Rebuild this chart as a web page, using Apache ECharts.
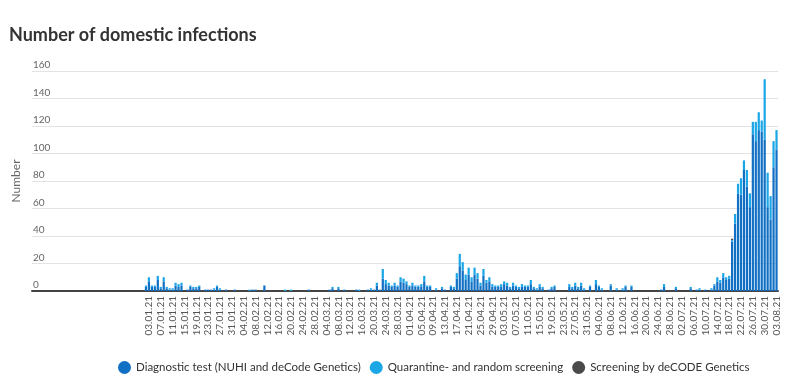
<!DOCTYPE html>
<html>
<head>
<meta charset="utf-8">
<script src="https://cdn.jsdelivr.net/npm/echarts@6/dist/echarts.min.js"></script>
<style>html,body{margin:0;padding:0;background:#fff}#c{width:808px;height:384px}</style>
</head>
<body>
<div id="c"></div>
<script>
// Axis starts 25.11.2020 (empty until 01.01.2021); data 01.01.2021 - 03.08.2021
const axisStart = '2020-11-25';
const leadDays = 37;
const firstLabel = '03.01.21';
const labelEvery = 4;
const yTicks = [0, 20, 40, 60, 80, 100, 120, 140, 160];

const seriesNames = ['Diagnostic test (NUHI and deCode Genetics)', 'Quarantine- and random screening', 'Screening by deCODE Genetics'];

const diagnostic = [
  0,3,7,3,3,8,2,7,2,1,
  1,4,3,4,0,1,3,2,2,3,
  0,1,1,1,1,3,1,0,1,0,
  0,1,0,0,0,0,0,1,1,0,
  0,4,0,0,0,0,0,0,0,0,
  0,0,0,0,0,0,1,0,0,0,
  0,0,0,1,2,0,2,0,1,0,
  0,0,1,0,0,0,1,1,1,4,
  1,9,5,4,3,4,3,7,6,5,
  3,4,3,3,3,7,3,3,0,1,
  0,2,1,0,3,2,9,18,15,8,
  12,7,12,9,4,11,6,7,3,3,
  3,3,5,4,2,4,3,2,3,3,
  3,5,2,1,3,2,0,1,2,3,
  0,0,0,0,3,2,4,2,4,1,
  0,3,0,5,3,1,0,0,4,0,
  1,0,1,3,0,3,0,0,0,0,
  0,0,0,0,0,1,3,0,0,0,
  2,0,0,0,0,2,0,1,1,0,
  1,0,1,4,7,6,10,8,9,36,
  49,71,70,88,76,61,114,109,117,116,
  110,61,52,90,103
];
const quarantine = [
  0,1,3,1,1,3,1,3,1,1,
  1,2,2,2,0,0,1,1,1,1,
  0,0,0,0,1,1,1,0,0,0,
  0,0,0,0,0,0,1,0,0,0,
  0,0,0,0,0,0,0,0,1,0,
  1,0,0,0,0,0,0,0,0,0,
  0,0,0,0,1,0,1,0,0,0,
  0,0,0,1,0,0,0,1,0,2,
  0,7,3,2,1,2,1,3,3,2,
  1,2,1,1,2,4,1,1,0,1,
  0,1,0,0,1,1,4,9,6,4,
  5,3,5,4,2,5,2,3,2,1,
  1,2,2,2,1,2,1,1,2,1,
  1,3,1,1,2,1,0,0,1,1,
  0,0,0,0,2,1,2,1,2,1,
  0,1,0,3,1,1,0,0,1,0,
  1,0,1,1,0,1,0,0,0,0,
  0,0,0,0,0,0,2,0,0,0,
  1,0,0,0,0,1,0,0,1,0,
  0,0,1,1,3,2,3,2,2,1,
  7,7,12,7,12,10,9,14,13,8,
  44,25,17,19,14
];
const screening = [
  0,0,0,0,0,0,0,0,0,0,
  0,0,0,0,0,0,0,0,0,0,
  0,0,0,0,0,0,0,0,0,0,
  0,0,0,0,0,0,0,0,0,0,
  0,0,0,0,0,0,0,0,0,0,
  0,0,0,0,0,0,0,0,0,0,
  0,0,0,0,0,0,0,0,0,0,
  0,0,0,0,0,0,0,0,0,0,
  0,0,0,0,0,0,0,0,0,0,
  0,0,0,0,0,0,0,0,0,0,
  0,0,0,0,0,0,0,0,0,0,
  0,0,0,0,0,0,0,0,0,0,
  0,0,0,0,0,0,0,0,0,0,
  0,0,0,0,0,0,0,0,0,0,
  0,0,0,0,0,0,0,0,0,0,
  0,0,0,0,0,0,0,0,0,0,
  0,0,0,0,0,0,0,0,0,0,
  0,0,0,0,0,0,0,0,0,0,
  0,0,0,0,0,0,0,0,0,0,
  0,0,0,0,0,0,0,0,0,1,
  0,0,0,0,0,0,0,0,0,0,
  0,0,0,0,0
];

// category labels (dd.mm.yy), one per day
const categories = [];
(function () {
  const d = new Date(axisStart + 'T12:00:00Z');
  const total = leadDays + diagnostic.length;
  for (let i = 0; i < total; i++) {
    const dd = String(d.getUTCDate()).padStart(2, '0');
    const mm = String(d.getUTCMonth() + 1).padStart(2, '0');
    const yy = String(d.getUTCFullYear()).slice(2);
    categories.push(dd + '.' + mm + '.' + yy);
    d.setUTCDate(d.getUTCDate() + 1);
  }
})();
const firstLabelIndex = categories.indexOf(firstLabel);
const pad = a => Array(leadDays).fill(null).concat(a);

const colors = ['#1170c4', '#1ba6e6', '#4a4a4a'];
const FONT = 'Lato';

const chart = echarts.init(document.getElementById('c'), null, {renderer: 'canvas'});
chart.setOption({
  animation: false,
  color: colors,
  textStyle: {fontFamily: FONT},
  title: {
    text: 'Number of domestic infections',
    left: 4, top: 21,
    textStyle: {fontFamily: FONT, fontWeight: 'bold', fontSize: 18, color: '#333'}
  },
  legend: {
    top: 356, left: 113,
    icon: 'circle', itemWidth: 13, itemHeight: 13, itemGap: 9,
    textStyle: {fontFamily: FONT, fontSize: 11.5, color: '#333'},
    data: seriesNames
  },
  grid: {left: 32, right: 30, top: 71, bottom: 93, containLabel: false},
  xAxis: {
    type: 'category',
    data: categories,
    boundaryGap: true,
    axisLine: {show: true, lineStyle: {color: '#444', width: 2}},
    axisTick: {show: false},
    axisLabel: {
      rotate: 90, fontSize: 10, color: '#555', fontFamily: FONT, margin: 5,
      interval: function (index) { return index >= firstLabelIndex && (index - firstLabelIndex) % labelEvery === 0; }
    },
    splitLine: {show: false}
  },
  yAxis: {
    type: 'value',
    min: yTicks[0], max: yTicks[yTicks.length - 1], interval: yTicks[1] - yTicks[0],
    name: 'Number', nameLocation: 'middle', nameGap: 7, nameRotate: 90,
    nameTextStyle: {fontFamily: FONT, fontSize: 12, color: '#666'},
    axisLine: {show: false}, axisTick: {show: false},
    axisLabel: {inside: true, verticalAlign: 'bottom', margin: 1, padding: [0, 0, 1, 0], fontSize: 10, color: '#666', fontFamily: FONT},
    splitLine: {lineStyle: {color: '#e3e3e3', width: 1}}
  },
  series: [
    {name: seriesNames[0], type: 'bar', stack: 'all', data: pad(diagnostic), barCategoryGap: '25%'},
    {name: seriesNames[1], type: 'bar', stack: 'all', data: pad(quarantine), barCategoryGap: '25%'},
    {name: seriesNames[2], type: 'bar', stack: 'all', data: pad(screening), barCategoryGap: '25%'}
  ]
});
</script>
</body>
</html>
